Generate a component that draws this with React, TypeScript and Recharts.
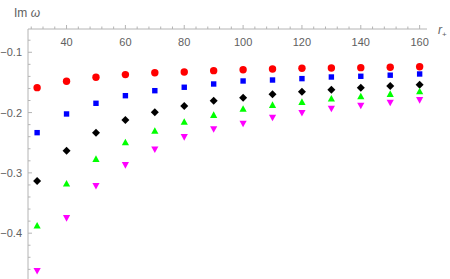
import React from 'react';
import { ScatterChart, Scatter, XAxis, YAxis, Label } from 'recharts';

const rPlus = [30, 40, 50, 60, 70, 80, 90, 100, 110, 120, 130, 140, 150, 160];

// Im omega per mode
const redCircles = [-0.1587, -0.148, -0.1415, -0.137, -0.134, -0.1327, -0.1305, -0.129, -0.1277, -0.1265, -0.126, -0.1255, -0.1249, -0.124];
const blueSquares = [-0.2333, -0.2023, -0.1846, -0.172, -0.1637, -0.158, -0.1526, -0.1476, -0.146, -0.1437, -0.141, -0.1398, -0.138, -0.136];
const blackDiamonds = [-0.3134, -0.2632, -0.2333, -0.2123, -0.1995, -0.189, -0.1802, -0.1753, -0.1697, -0.1653, -0.162, -0.1587, -0.156, -0.1537];
const greenUp = [-0.388, -0.3184, -0.2775, -0.25, -0.231, -0.216, -0.2045, -0.1945, -0.188, -0.183, -0.1775, -0.1736, -0.1697, -0.1653];
const magentaDown = [-0.462, -0.3743, -0.321, -0.2864, -0.2604, -0.24, -0.227, -0.2177, -0.2078, -0.2, -0.193, -0.188, -0.183, -0.1786];

const majorXTicks = [40, 60, 80, 100, 120, 140, 160];
const majorYTicks = [-0.1, -0.2, -0.3, -0.4];

const AXIS = '#b4b4b4';
const LABEL = '#606060';
const FONT = '"Liberation Sans", Arial, sans-serif';

// minor ticks every 4 on r+, every 0.02 on Im w
const xTicks: number[] = [];
for (let v = 28; v <= 160; v += 4) xTicks.push(v);
const yTicks: number[] = [];
for (let i = 4; i <= 23; i++) yTicks.push(-Math.round(i * 2) / 100);

const toPoints = (ys: number[]) => rPlus.map((x, i) => ({ x, y: ys[i] }));

const isMajorY = (v: number) => majorYTicks.some((m) => Math.abs(m - v) < 1e-9);

const XTick = (props: any) => {
  const { x, y, payload } = props;
  const major = majorXTicks.includes(payload.value);
  return (
    <g>
      <line x1={x} x2={x} y1={y} y2={y - (major ? 4 : 2.5)} stroke={AXIS} />
      {major && (
        <text x={x} y={y + 17} textAnchor="middle" fill={LABEL} fontSize={11} fontFamily={FONT}>
          {payload.value}
        </text>
      )}
    </g>
  );
};

const YTick = (props: any) => {
  const { x, y, payload } = props;
  const major = isMajorY(payload.value);
  return (
    <g>
      <line x1={x} x2={x + (major ? 4 : 2.5)} y1={y} y2={y} stroke={AXIS} />
      {major && (
        <text x={x - 6} y={y + 4} textAnchor="end" fill={LABEL} fontSize={11} fontFamily={FONT}>
          {'\u2212' + Math.abs(payload.value).toFixed(1)}
        </text>
      )}
    </g>
  );
};

const Circle = (p: any) => <circle cx={p.cx} cy={p.cy} r={3.7} fill="#ff0000" />;
const Square = (p: any) => <rect x={p.cx - 2.7} y={p.cy - 2.7} width={5.4} height={5.4} fill="#0000ff" />;
const Diamond = (p: any) => (
  <polygon points={`${p.cx},${p.cy - 4} ${p.cx + 4},${p.cy} ${p.cx},${p.cy + 4} ${p.cx - 4},${p.cy}`} fill="#000000" />
);
const TriUp = (p: any) => (
  <polygon points={`${p.cx},${p.cy - 4} ${p.cx + 3.6},${p.cy + 2.6} ${p.cx - 3.6},${p.cy + 2.6}`} fill="#00ff00" />
);
const TriDown = (p: any) => (
  <polygon points={`${p.cx},${p.cy + 4} ${p.cx + 3.6},${p.cy - 2.6} ${p.cx - 3.6},${p.cy - 2.6}`} fill="#ff00ff" />
);

export default function App() {
  return (
    <div style={{ position: 'absolute', left: 0, top: 0, background: '#fff' }}>
      <ScatterChart width={450} height={279} margin={{ top: 0, right: 23, bottom: 0, left: 0 }}>
        <XAxis
          type="number"
          dataKey="x"
          orientation="top"
          height={29}
          domain={[26.9, 162.5]}
          allowDataOverflow
          ticks={xTicks}
          interval={0}
          tick={<XTick />}
          tickLine={false}
          tickSize={0}
          tickMargin={0}
          axisLine={{ stroke: AXIS }}
        >
          <Label
            content={(props: any) => {
              const vb = props.viewBox;
              return (
                <text x={vb.x + vb.width + 11} y={vb.y + vb.height + 5} fill={LABEL} fontSize={12} fontFamily={FONT}>
                  <tspan fontStyle="italic">r</tspan>
                  <tspan fontSize={8} dy={3}>+</tspan>
                </text>
              );
            }}
          />
        </XAxis>
        <YAxis
          type="number"
          dataKey="y"
          width={28}
          domain={[-0.476, -0.0614]}
          allowDataOverflow
          ticks={yTicks}
          interval={0}
          tick={<YTick />}
          tickLine={false}
          tickSize={0}
          tickMargin={0}
          axisLine={{ stroke: AXIS }}
        >
          <Label
            content={(props: any) => {
              const vb = props.viewBox;
              return (
                <text x={vb.x + 14} y={vb.y - 12} fill={LABEL} fontSize={12} fontFamily={FONT}>
                  Im <tspan fontStyle="italic">ω</tspan>
                </text>
              );
            }}
          />
        </YAxis>
        <Scatter data={toPoints(redCircles)} shape={Circle} isAnimationActive={false} />
        <Scatter data={toPoints(blueSquares)} shape={Square} isAnimationActive={false} />
        <Scatter data={toPoints(blackDiamonds)} shape={Diamond} isAnimationActive={false} />
        <Scatter data={toPoints(greenUp)} shape={TriUp} isAnimationActive={false} />
        <Scatter data={toPoints(magentaDown)} shape={TriDown} isAnimationActive={false} />
      </ScatterChart>
    </div>
  );
}
